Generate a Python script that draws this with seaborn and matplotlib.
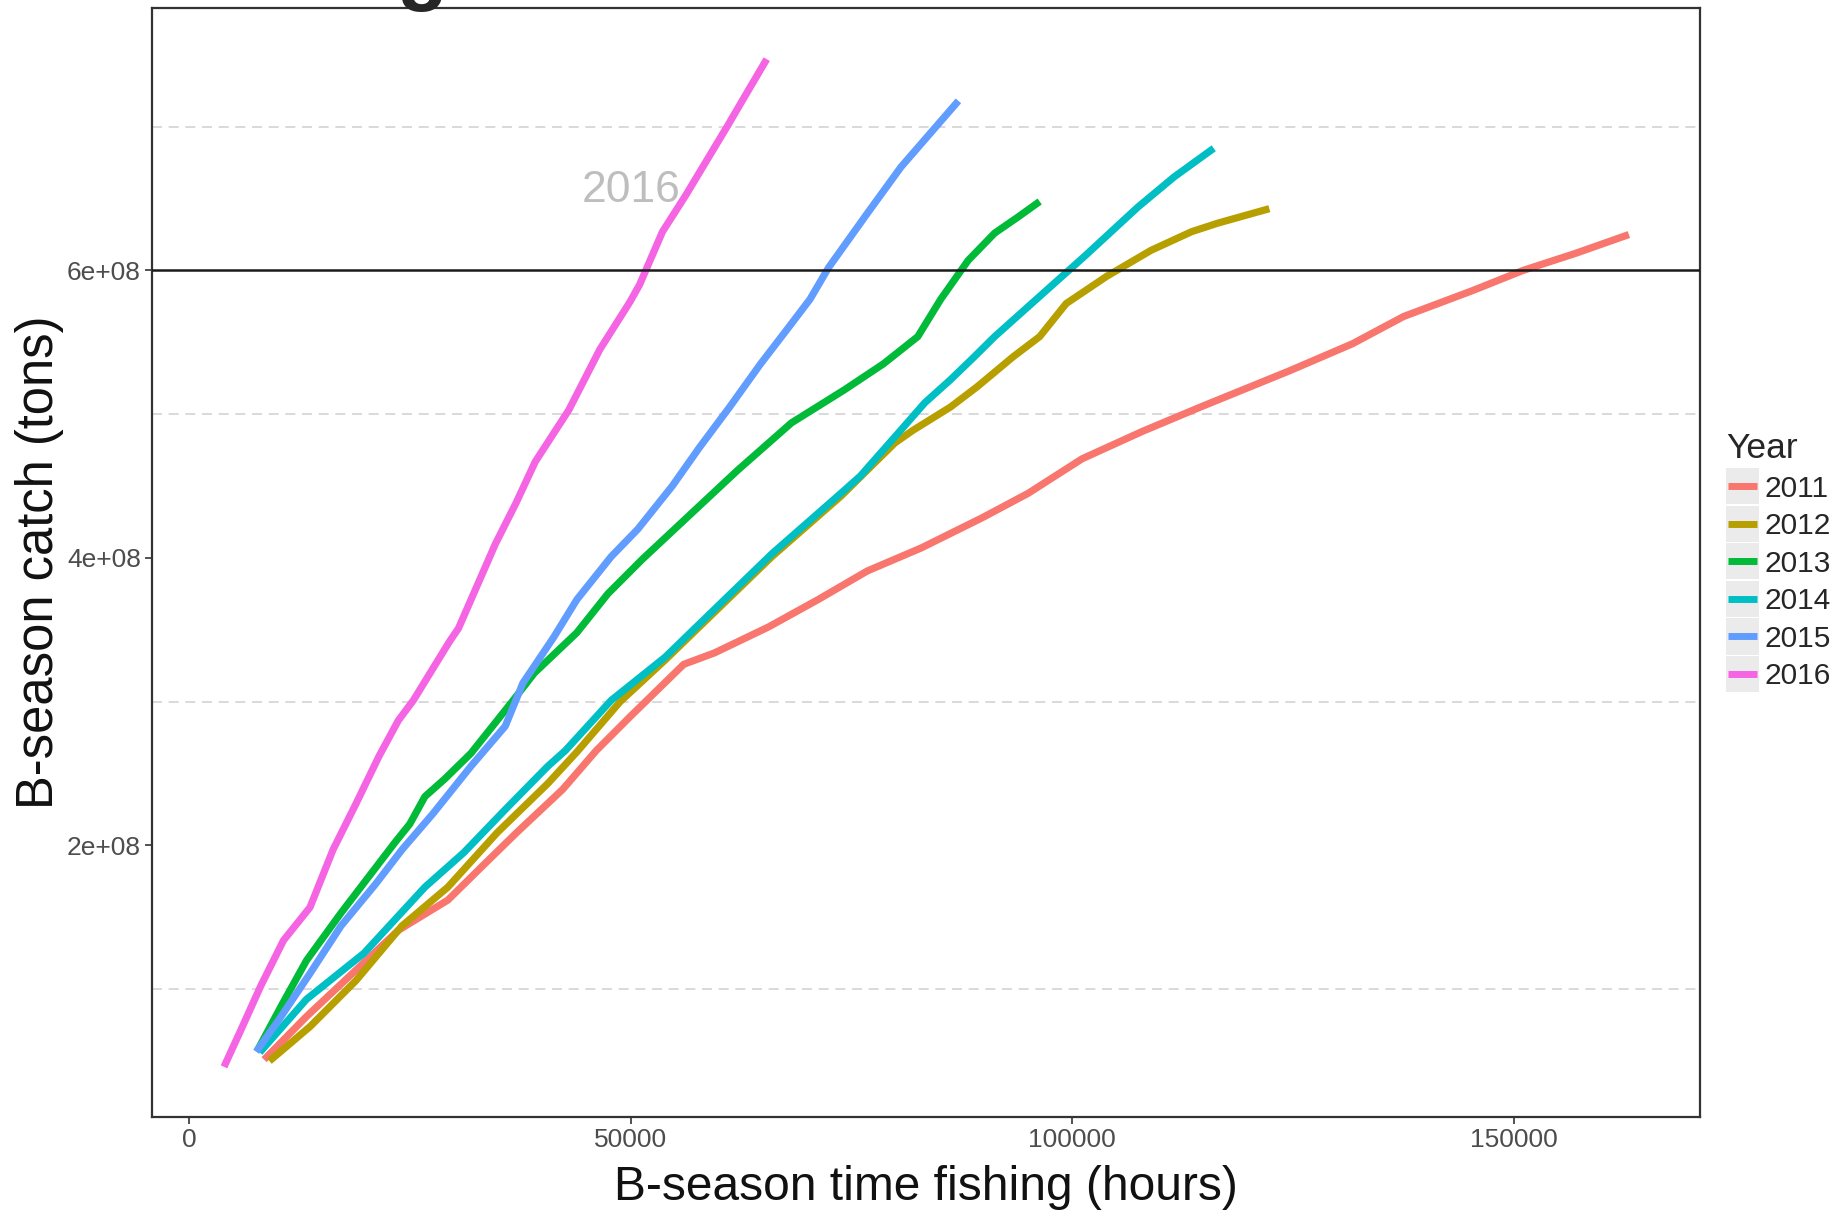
import pandas as pd
import seaborn as sns
import matplotlib.pyplot as plt
from matplotlib.lines import Line2D
from matplotlib.patches import Rectangle
from matplotlib.legend_handler import HandlerLine2D
from matplotlib.ticker import FuncFormatter

# Data
years = ["2011", "2012", "2013", "2014", "2015", "2016"]
colors = ["#F8766D", "#B79F00", "#00BA38", "#00BFC4", "#619CFF", "#F564E3"]

hours_2011 = [8500, 13300, 18500, 23700, 29300, 33600, 37100, 42300, 46100, 50000,
              56000, 59500, 65600, 71200, 76800, 82900, 89800, 95000, 101100, 107900,
              114500, 124500, 131700, 137500, 145300, 151000, 157000, 163000]
catch_2011 = [5.1e7, 8.1e7, 1.11e8, 1.41e8, 1.62e8, 1.88e8, 2.09e8, 2.39e8, 2.66e8, 2.90e8,
              3.26e8, 3.34e8, 3.52e8, 3.71e8, 3.91e8, 4.07e8, 4.28e8, 4.45e8, 4.69e8, 4.88e8,
              5.05e8, 5.30e8, 5.49e8, 5.68e8, 5.86e8, 6.00e8, 6.12e8, 6.25e8]

hours_2012 = [9100, 13700, 18900, 24100, 29300, 34900, 40600, 43900, 48800, 53900,
              58600, 66000, 73800, 79900, 82000, 86200, 89200, 93300, 96300, 99300,
              103900, 108900, 113500, 116500, 122300]
catch_2012 = [5.0e7, 7.4e7, 1.06e8, 1.44e8, 1.71e8, 2.09e8, 2.43e8, 2.65e8, 3.00e8, 3.29e8,
              3.57e8, 4.01e8, 4.43e8, 4.80e8, 4.89e8, 5.05e8, 5.19e8, 5.40e8, 5.54e8, 5.77e8,
              5.96e8, 6.14e8, 6.27e8, 6.33e8, 6.43e8]

hours_2013 = [7800, 10500, 13300, 17200, 23300, 25000, 26700, 28900, 31900, 36700,
              39100, 43900, 47400, 51300, 56000, 62100, 68200, 74200, 78600, 82500,
              85100, 88200, 91200, 93800, 96300]
catch_2013 = [5.8e7, 8.9e7, 1.20e8, 1.53e8, 2.02e8, 2.15e8, 2.34e8, 2.46e8, 2.64e8, 3.01e8,
              3.20e8, 3.48e8, 3.75e8, 3.99e8, 4.26e8, 4.61e8, 4.94e8, 5.17e8, 5.35e8, 5.54e8,
              5.80e8, 6.07e8, 6.26e8, 6.37e8, 6.48e8]

hours_2014 = [8000, 13300, 19800, 26700, 31100, 35800, 40600, 42600, 47800, 53900,
              58600, 66000, 73800, 76000, 80300, 83300, 86200, 88900, 91200, 96300,
              101400, 107400, 111500, 116000]
catch_2014 = [5.6e7, 9.3e7, 1.25e8, 1.71e8, 1.95e8, 2.25e8, 2.55e8, 2.66e8, 3.01e8, 3.31e8,
              3.59e8, 4.03e8, 4.45e8, 4.57e8, 4.87e8, 5.08e8, 5.24e8, 5.40e8, 5.54e8, 5.82e8,
              6.10e8, 6.44e8, 6.65e8, 6.85e8]

hours_2015 = [7600, 10200, 13700, 17200, 21100, 24100, 27600, 31900, 35800, 37800,
              41300, 43900, 47800, 50800, 54700, 57800, 61200, 64700, 67700, 70300,
              72400, 76700, 80600, 87100]
catch_2015 = [5.65e7, 7.9e7, 1.11e8, 1.44e8, 1.73e8, 1.97e8, 2.22e8, 2.55e8, 2.83e8, 3.13e8,
              3.45e8, 3.71e8, 4.01e8, 4.20e8, 4.50e8, 4.77e8, 5.05e8, 5.35e8, 5.59e8, 5.80e8,
              6.02e8, 6.39e8, 6.72e8, 7.18e8]

hours_2016 = [3960, 5900, 8100, 10700, 13700, 16300, 18900, 21500, 23700, 25400,
              29500, 30500, 34700, 37000, 39200, 43000, 46500, 49900, 51000, 53600,
              56200, 61000, 63000, 65400]
catch_2016 = [4.6e7, 7.2e7, 1.02e8, 1.34e8, 1.57e8, 1.97e8, 2.29e8, 2.62e8, 2.87e8, 3.01e8,
              3.42e8, 3.51e8, 4.10e8, 4.38e8, 4.67e8, 5.03e8, 5.45e8, 5.78e8, 5.90e8, 6.27e8,
              6.52e8, 7.01e8, 7.22e8, 7.47e8]

target_catch = 6e8
major_y = [2e8, 4e8, 6e8]
minor_y = [1e8, 3e8, 5e8, 7e8]
x_ticks = [0, 50000, 100000, 150000]

all_hours = [hours_2011, hours_2012, hours_2013, hours_2014, hours_2015, hours_2016]
all_catch = [catch_2011, catch_2012, catch_2013, catch_2014, catch_2015, catch_2016]
df = pd.concat([pd.DataFrame({"hours": h, "catch": c, "Year": yr})
                for yr, h, c in zip(years, all_hours, all_catch)], ignore_index=True)

sns.set_theme(style="white")
plt.rcParams["font.family"] = ["Liberation Sans", "DejaVu Sans"]

fig = plt.figure(figsize=(18.34, 12.11), dpi=100)
ax = fig.add_axes([152 / 1834, 1 - 1117 / 1211, (1700 - 152) / 1834, (1117 - 8) / 1211])

sns.lineplot(data=df, x="hours", y="catch", hue="Year", hue_order=years,
             palette=dict(zip(years, colors)), estimator=None, sort=False,
             linewidth=5.2, legend=False, ax=ax)
for ln in ax.lines:
    ln.set_solid_capstyle("butt")

ax.axhline(target_catch, color="#1a1a1a", lw=1.8, zorder=3)
ax.text(50060, 6.475e8, "2016", color="#BEBEBE", fontsize=32, ha="center", va="baseline")

ax.set_xlim(-4190, 171050)
ax.set_ylim(1.11e7, 7.826e8)
ax.set_xticks(x_ticks)
ax.set_yticks(major_y)
ax.set_yticks(minor_y, minor=True)
ax.xaxis.set_major_formatter(FuncFormatter(lambda v, p: f"{int(v)}"))
ax.yaxis.set_major_formatter(FuncFormatter(lambda v, p: f"{v:.0e}"))
ax.grid(False)
ax.grid(which="minor", axis="y", color="#D3D3D3", lw=1.2, linestyle=(0, (6, 4)))
ax.set_axisbelow(True)

ax.tick_params(axis="both", which="major", bottom=True, left=True, length=5, width=1.2,
               color="#333333", labelsize=19, labelcolor="#4D4D4D", pad=3)
ax.tick_params(axis="both", which="minor", length=0)
for sp in ax.spines.values():
    sp.set_color("#333333")
    sp.set_linewidth(1.6)

ax.set_xlabel("B-season time fishing (hours)", fontsize=34.5, labelpad=9, color="#111111")
ax.set_ylabel("B-season catch (tons)", fontsize=36.5, labelpad=2, color="#111111")

# clipped bold title remnant at the very top
fig.text(397 / 1834, 1 + 5 / 1211, "g", fontsize=60, fontweight="bold", ha="left", va="baseline")


class KeyHandler(HandlerLine2D):
    def create_artists(self, legend, orig_handle, xdescent, ydescent, width, height, fontsize, trans):
        gap = legend.labelspacing * fontsize / 2
        bg = Rectangle((-xdescent, -ydescent - gap), width, height + 2 * gap,
                       facecolor="#EBEBEB", edgecolor="none", transform=trans)
        key = Line2D([-xdescent + 0.07 * width, -xdescent + 0.93 * width],
                     [height / 2 - ydescent] * 2, color=orig_handle.get_color(),
                     lw=5, solid_capstyle="butt", transform=trans)
        return [bg, key]


handles = [Line2D([], [], color=c) for c in colors]
fig.legend(handles, years, loc="upper left", bbox_to_anchor=(1726 / 1834, 1 - 432 / 1211),
           frameon=False, fontsize=21.5, title="Year", title_fontsize=25.5,
           handlelength=1.1, handleheight=1.15, labelspacing=0.22, handletextpad=0.2,
           borderpad=0, borderaxespad=0, alignment="left",
           handler_map={Line2D: KeyHandler()})

fig.savefig("out.png", dpi=100)
